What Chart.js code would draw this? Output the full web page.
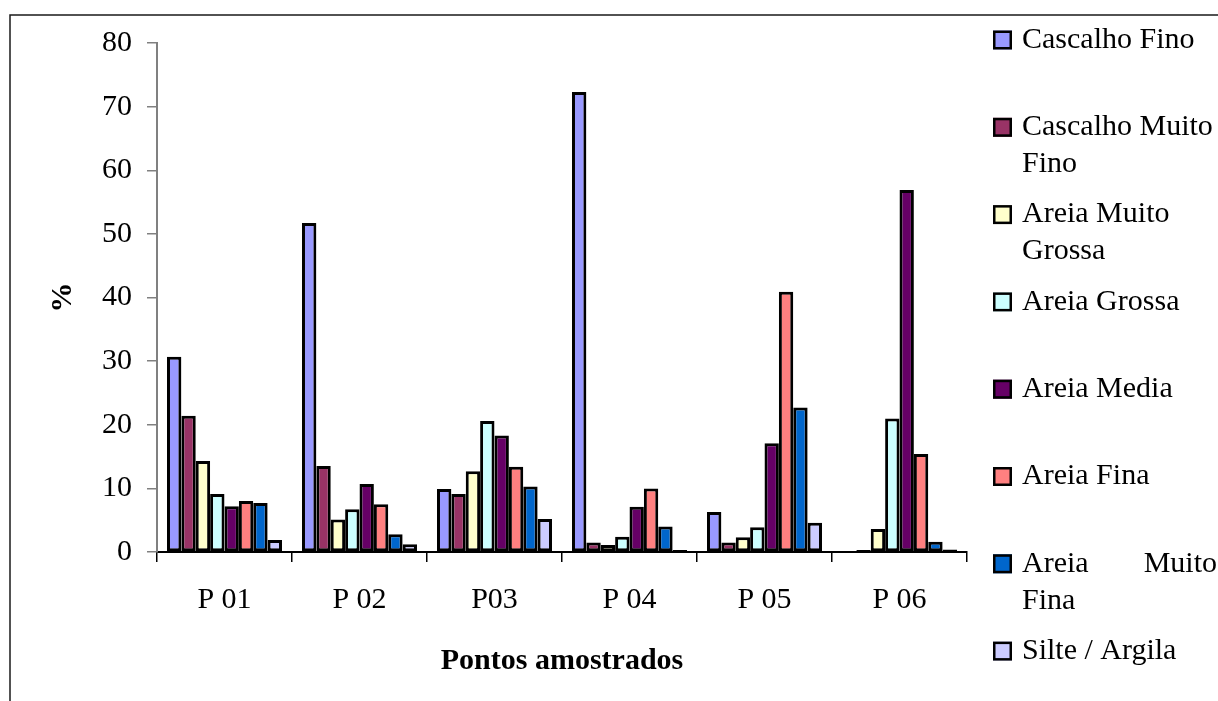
<!DOCTYPE html>
<html lang="pt">
<head>
<meta charset="utf-8">
<title>Granulometria por ponto amostrado</title>
<script src="https://cdn.jsdelivr.net/npm/chart.js@4.4.1/dist/chart.umd.min.js"></script>
<style>
  html, body { margin: 0; padding: 0; background: #ffffff; }
  #wrap { width: 1218px; height: 701px; position: relative; }
</style>
</head>
<body>
<div id="wrap"><canvas id="chart" width="1218" height="701"></canvas></div>
<script>
// Pontos de coleta
const pontos = ["P 01", "P 02", "P03", "P 04", "P 05", "P 06"];

// Classes granulométricas (%)
const classes = [
  "Cascalho Fino",
  "Cascalho Muito Fino",
  "Areia Muito Grossa",
  "Areia Grossa",
  "Areia Media",
  "Areia Fina",
  "Areia Muito Fina",
  "Silte / Argila"
];

const cascalhoFino      = [30.7, 51.7,  9.9, 72.3,  6.3,  0.0];
const cascalhoMuitoFino = [21.4, 13.5,  9.1,  1.5,  1.5,  0.3];
const areiaMuitoGrossa  = [14.3,  5.1, 12.7,  1.1,  2.3,  3.6];
const areiaGrossa       = [ 9.1,  6.7, 20.6,  2.4,  3.9, 21.0];
const areiaMedia        = [ 7.2, 10.7, 18.3,  7.1, 17.1, 56.9];
const areiaFina         = [ 8.0,  7.5, 13.4, 10.0, 40.9, 15.4];
const areiaMuitoFina    = [ 7.7,  2.8, 10.3,  4.0, 22.7,  1.6];
const silteArgila       = [ 1.9,  1.2,  5.2,  0.3,  4.6,  0.4];

const yTicks = [0, 10, 20, 30, 40, 50, 60, 70, 80];

const series = [cascalhoFino, cascalhoMuitoFino, areiaMuitoGrossa, areiaGrossa,
                areiaMedia, areiaFina, areiaMuitoFina, silteArgila];
const cores = ["#9999FF", "#993366", "#FFFFCC", "#CCFFFF",
               "#660066", "#FF8080", "#0066CC", "#CCCCFF"];

const SERIF = '"Liberation Serif", "Times New Roman", Times, serif';

// Moldura externa (linha superior e esquerda)
const moldura = {
  id: "moldura",
  beforeDraw(chart) {
    const ctx = chart.ctx;
    ctx.save();
    ctx.fillStyle = "#ffffff";
    ctx.fillRect(0, 0, chart.width, chart.height);
    ctx.strokeStyle = "#1a1a1a";
    ctx.lineWidth = 1.5;
    ctx.beginPath();
    ctx.moveTo(10, chart.height);
    ctx.lineTo(10, 15);
    ctx.lineTo(chart.width, 15);
    ctx.stroke();
    ctx.restore();
  }
};

// Legenda à direita, com quebra de linha no estilo de planilha
const legendaLateral = {
  id: "legendaLateral",
  afterDraw(chart, args, opts) {
    const ctx = chart.ctx;
    const x0 = opts.x, box = opts.box, textX = opts.textX, maxW = opts.maxWidth;
    ctx.save();
    ctx.font = opts.fontSize + "px " + SERIF;
    ctx.textBaseline = "middle";
    ctx.fillStyle = "#000";
    chart.data.datasets.forEach((ds, i) => {
      const cy = opts.y0 + i * opts.step;
      // quadrado de cor
      ctx.fillStyle = ds.backgroundColor;
      ctx.fillRect(x0, cy - box / 2, box, box);
      ctx.strokeStyle = "#000";
      ctx.lineWidth = 2.5;
      ctx.strokeRect(x0 + 1.25, cy - box / 2 + 1.25, box - 2.5, box - 2.5);
      // texto com quebra
      const words = ds.label.split(" ");
      const lines = [];
      let cur = "";
      words.forEach(w => {
        const t = cur ? cur + " " + w : w;
        if (ctx.measureText(t).width > maxW && cur) { lines.push(cur); cur = w; }
        else cur = t;
      });
      if (cur) lines.push(cur);
      ctx.fillStyle = "#000";
      lines.forEach((ln, k) => {
        const ly = cy + k * opts.lineGap;
        const justify = opts.justify.includes(i) && k < lines.length - 1;
        if (justify) {
          const parts = ln.split(" ");
          ctx.textAlign = "left";
          ctx.fillText(parts[0], textX, ly);
          ctx.textAlign = "right";
          ctx.fillText(parts.slice(1).join(" "), textX + maxW, ly);
          ctx.textAlign = "left";
        } else {
          ctx.textAlign = "left";
          ctx.fillText(ln, textX, ly);
        }
      });
    });
    ctx.restore();
  }
};

const datasets = classes.map((nome, i) => ({
  label: nome,
  data: series[i],
  backgroundColor: cores[i],
  borderColor: "#000000",
  borderWidth: 3,
  borderSkipped: false,
  barPercentage: 1.0,
  categoryPercentage: 0.852
}));

new Chart(document.getElementById("chart"), {
  type: "bar",
  data: { labels: pontos, datasets },
  plugins: [moldura, legendaLateral],
  options: {
    responsive: false,
    devicePixelRatio: 1,
    animation: false,
    layout: { padding: { left: 0, top: 43, right: 251, bottom: 0 } },
    plugins: {
      legend: { display: false },
      tooltip: { enabled: false },
      legendaLateral: {
        x: 993, box: 19, textX: 1022, maxWidth: 195,
        y0: 40, step: 87.3, lineGap: 37, fontSize: 30, justify: [6]
      }
    },
    scales: {
      x: {
        grid: { display: true, drawOnChartArea: false, drawTicks: true, tickLength: 10,
                color: "#000", lineWidth: 1.5, offset: true },
        border: { display: true, color: "#000", width: 2 },
        ticks: { color: "#000", font: { family: SERIF, size: 30 }, padding: 20,
                 maxRotation: 0, autoSkip: false },
        title: { display: true, text: "Pontos amostrados", color: "#000",
                 font: { family: SERIF, size: 30, weight: "bold" },
                 padding: { top: 0, bottom: 22 } },
        afterFit(scale) { scale.height = 149; }
      },
      y: {
        min: 0, max: 80,
        afterBuildTicks(scale) { scale.ticks = yTicks.map(v => ({ value: v })); },
        grid: { display: true, drawOnChartArea: false, drawTicks: true, tickLength: 10,
                color: "#808080", lineWidth: 1.5 },
        border: { display: true, color: "#808080", width: 2 },
        ticks: { color: "#000", font: { family: SERIF, size: 30 }, padding: 15 },
        title: { display: true, text: "%", color: "#000",
                 font: { family: SERIF, size: 30, weight: "bold" },
                 padding: { top: 45, bottom: 0 } },
        afterFit(scale) { scale.width = 157; }
      }
    }
  }
});
</script>
</body>
</html>
